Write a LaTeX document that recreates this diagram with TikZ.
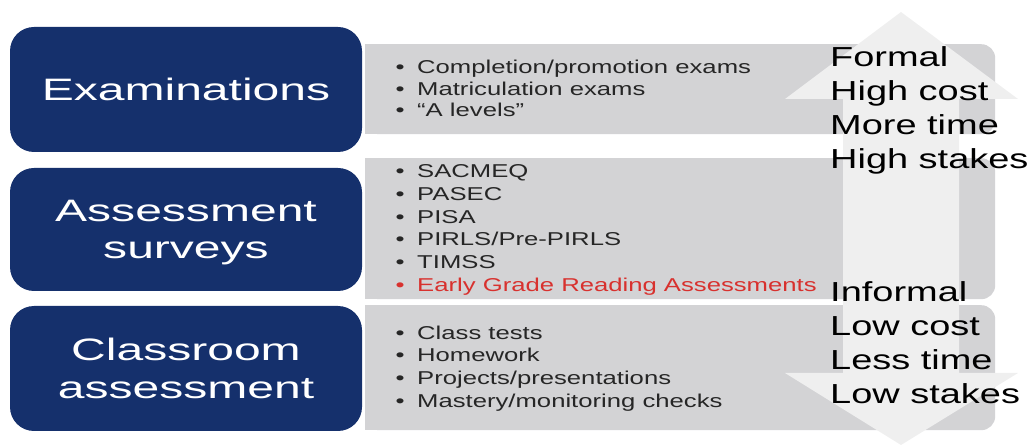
\documentclass[tikz,border=0pt]{standalone}
\usepackage{fontspec}
\setmainfont[FakeStretch=1.38]{Liberation Sans}
\newfontfamily\titlefont[FakeStretch=1.55]{Liberation Sans}
\definecolor{navy}{HTML}{15306C}
\definecolor{panelgray}{HTML}{D3D3D5}
\definecolor{arrowgray}{HTML}{EFEFEF}
\definecolor{itemgray}{HTML}{262626}
\definecolor{egrared}{HTML}{D8312E}
\tikzset{
  category/.style = {fill=navy, rounded corners=24pt, minimum width=352pt, text=white,
                     align=center, text depth=0pt,
                     font=\titlefont\fontsize{31}{37.5}\selectfont},
  panel/.style    = {fill=panelgray, rounded corners=14pt, anchor=north west,
                     minimum width=630pt, inner sep=0pt},
  items/.style    = {anchor=west, align=left, text=itemgray, inner sep=0pt,
                     font=\fontsize{18.6}{22.8}\selectfont},
  side/.style     = {anchor=west, align=left, text=black, inner sep=0pt,
                     font=\fontsize{27.5}{34}\selectfont},
}
\newcommand\bul{\makebox[21.5pt][l]{\textbullet}}
\begin{document}
\begin{tikzpicture}[x=1pt, y=-1pt]
  \useasboundingbox (0,0) rectangle (1029,446);

  % grey panels, square on the left
  \node[panel, minimum height=90pt]  (exampanel)   at (365,44)  {};
  \node[panel, minimum height=141pt] (surveypanel) at (365,158) {};
  \node[panel, minimum height=125pt] (classpanel)  at (365,305) {};
  \foreach \p in {exampanel, surveypanel, classpanel}
    \fill[panelgray] (\p.north west) rectangle ([xshift=30pt]\p.south west);

  % double arrow behind the labels
  \fill[arrowgray] (901,12) -- (1018,99) -- (959,99) -- (959,373) -- (1018,373)
    -- (901,445) -- (785,373) -- (843,373) -- (843,99) -- (785,99) -- cycle;

  % categories
  \node[category, minimum height=125pt] (exams)     at (186,89.5)  {Examinations};
  \node[category, minimum height=123pt] (surveys)   at (186,229.5) {Assessment\\surveys};
  \node[category, minimum height=125pt] (classroom) at (186,368.5) {Classroom\\assessment};

  % examples
  \node[items, font=\fontsize{18.6}{21.7}\selectfont] (examlist) at (395.5,88.5) {%
    \bul Completion/promotion exams\\
    \bul Matriculation exams\\
    \bul “A levels”};
  \node[items] (surveylist) at (395.5,230) {%
    \bul SACMEQ\\
    \bul PASEC\\
    \bul PISA\\
    \bul PIRLS/Pre-PIRLS\\
    \bul TIMSS\\
    \textcolor{egrared}{\bul Early Grade Reading Assessments}};
  \node[items] (classlist) at (395.5,368.5) {%
    \bul Class tests\\
    \bul Homework\\
    \bul Projects/presentations\\
    \bul Mastery/monitoring checks};

  % scale labels
  \node[side] (high) at (830,110.5) {Formal\\High cost\\More time\\High stakes};
  \node[side] (low)  at (830,342.5) {Informal\\Low cost\\Less time\\Low stakes};
\end{tikzpicture}
\end{document}
